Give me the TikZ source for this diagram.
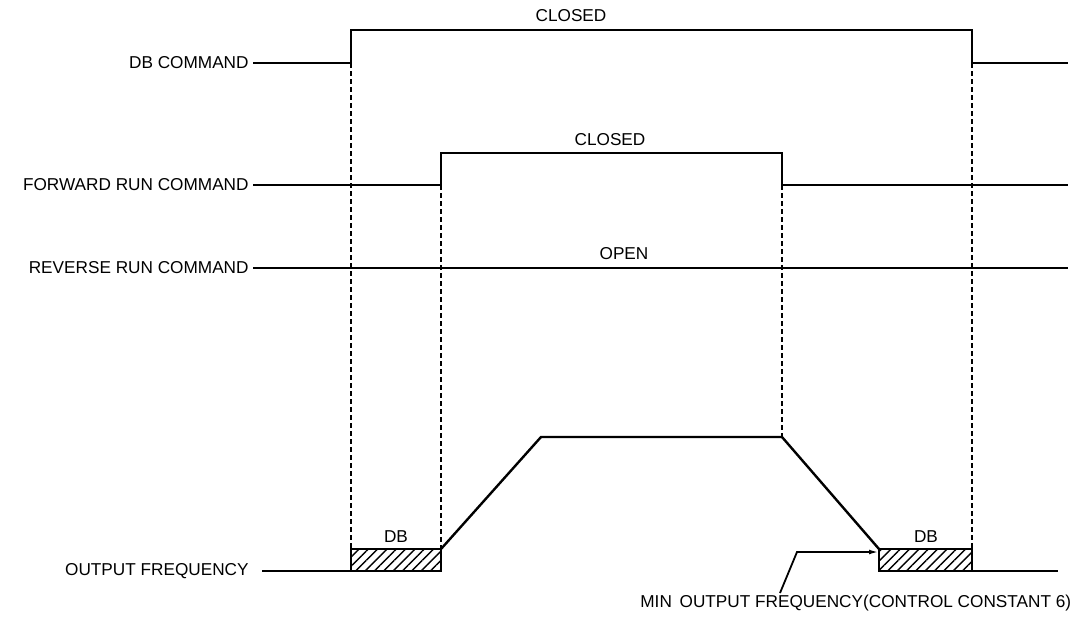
\documentclass[tikz,border=0pt]{standalone}
\usepackage{fontspec}
\setmainfont{Liberation Sans}
\usetikzlibrary{patterns.meta,arrows.meta}

\begin{document}
\begin{tikzpicture}[x=0.5pt, y=-0.5pt, font=\fontsize{8.6}{10}\selectfont,
  sig/.style={line width=1.2pt, line join=miter},
  guide/.style={line width=1pt, dash pattern=on 2.4pt off 1.6pt},
  dbbox/.style={draw, line width=1.2pt, pattern={Lines[angle=45, distance=3.3pt, line width=0.7pt]}},
  lbl/.style={anchor=east, inner sep=2pt}]
  \useasboundingbox (0,0) rectangle (1088,628);

  \node[lbl] (dbcmd) at (253,63) {DB COMMAND};
  \node[lbl] (fwdcmd) at (253,185) {FORWARD RUN COMMAND};
  \node[lbl] (revcmd) at (253,268) {REVERSE RUN COMMAND};
  \node[lbl] (outfreq) at (253,571) {OUTPUT FREQUENCY};

  \draw[sig] (dbcmd.east) -- (351,63) -- (351,30) -- (972,30) -- (972,63) -- (1068,63);
  \draw[sig] (fwdcmd.east) -- (441,185) -- (441,153) -- (782,153) -- (782,185) -- (1068,185);
  \draw[sig] (revcmd.east) -- (1068,268);
  \draw[sig] (262,571) -- (351,571);
  \draw[sig] (441,549) -- (541,437) -- (782,437) -- (879,549);
  \draw[sig] (972,571) -- (1058,571);
  \draw[dbbox] (351,549) rectangle (441,571);
  \draw[dbbox] (879,549) rectangle (972,571);

  \draw[guide] (351,63) -- (351,549);
  \draw[guide] (441,185) -- (441,549);
  \draw[guide] (782,185) -- (782,437);
  \draw[guide] (972,63) -- (972,549);

  \node (closed1) at (571,16) {CLOSED};
  \node (closed2) at (610,140) {CLOSED};
  \node (open1) at (624,254) {OPEN};
  \node (db1) at (396,537) {DB};
  \node (db2) at (926,537) {DB};

  \node[anchor=west, inner sep=0pt] (minfreq) at (640,603) {MIN\hspace{0.45em}OUTPUT FREQUENCY(CONTROL CONSTANT 6)};
  \coordinate (bend) at (797,552);
  \draw[line width=0.9pt, -{Latex[length=5pt,width=2.4pt]}] (780,593) -- (bend) -- (879,552);
\end{tikzpicture}
\end{document}
